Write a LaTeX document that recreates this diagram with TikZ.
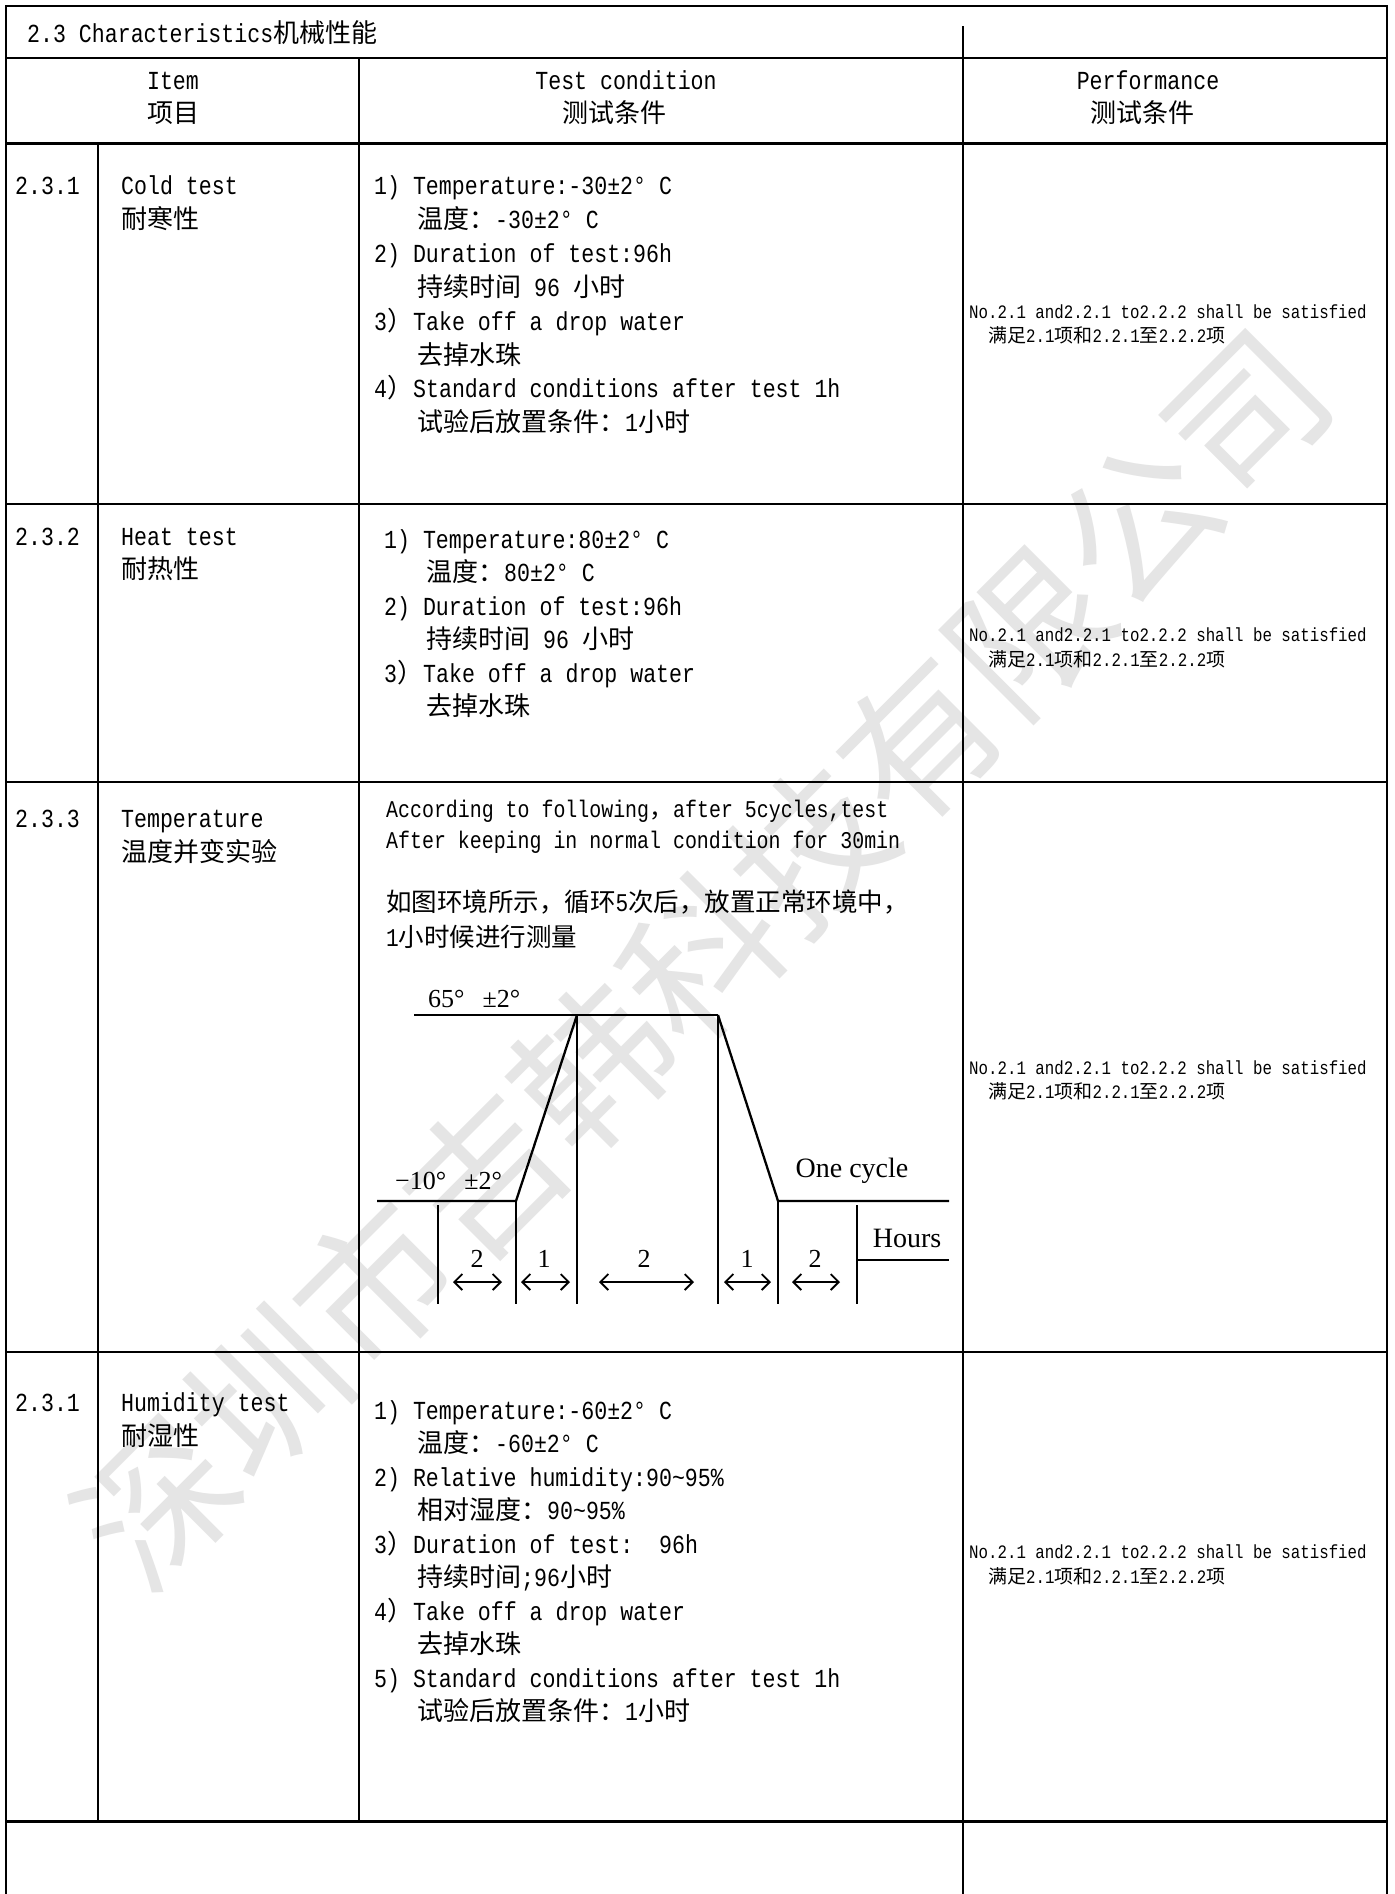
\documentclass[tikz,border=0pt]{standalone}
\usepackage{fontspec}
\setmainfont{Liberation Mono}[FakeStretch=0.83]
\newfontfamily\cjk{Noto Sans CJK SC}
\newfontfamily\serifA{Liberation Serif}
\usetikzlibrary{arrows.meta}
\newcommand\C[1]{{\cjk #1}}
\tikzset{
  grid/.style={line width=2pt, line cap=rect},
  heavy/.style={line width=3pt},
  chart/.style={line width=2.3pt},
  dim/.style={line width=1.8pt, {Straight Barb[length=8pt,width=16pt]}-{Straight Barb[length=8pt,width=16pt]}},
  txt/.style={inner sep=0pt, anchor=base west, font=\fontsize{26}{30}\selectfont},
  hd/.style={inner sep=0pt, anchor=base, font=\fontsize{26}{30}\selectfont},
  tthree/.style={inner sep=0pt, anchor=base west, font=\fontsize{24}{28}\selectfont},
  tthreec/.style={inner sep=0pt, anchor=base west, font=\fontsize{25.5}{28}\selectfont},
  pf/.style={inner sep=0pt, anchor=base west, font=\fontsize{19}{22}\selectfont},
  ser/.style={inner sep=0pt, font=\serifA\fontsize{26}{30}\selectfont},
  serbig/.style={inner sep=0pt, font=\serifA\fontsize{28}{32}\selectfont},
  wm/.style={inner sep=0pt, text=black!10, rotate=45, font=\cjk\fontsize{154}{160}\selectfont}
}
\begin{document}
\begin{tikzpicture}[x=1pt,y=-1pt]
\useasboundingbox (0,0) rectangle (1394,1894);
\fill[white] (0,0) rectangle (1394,1894);
% watermark
\node[wm] (wm) at (702,958) {深圳市吉韩科技有限公司};
% table frame
\draw[grid] (6,1894) -- (6,6) -- (1387,6) -- (1387,1894);
\draw[grid] (6,58) -- (1387,58);
\draw[grid] (963,27) -- (963,58);
\draw[heavy] (6,144) -- (1387,144);
\draw[grid] (359,58) -- (359,1821);
\draw[grid] (963,58) -- (963,1894);
\draw[grid] (98,144) -- (98,1821);
\draw[grid] (6,504) -- (1387,504);
\draw[grid] (6,782) -- (1387,782);
\draw[grid] (6,1352) -- (1387,1352);
\draw[heavy] (6,1821) -- (1387,1821);
% title and header
\node[txt] (title) at (27,43) {2.3 Characteristics\C{机械性能}};
\node[hd] (hItem) at (173,90) {Item};
\node[hd] (hItemC) at (173,123) {\C{项目}};
\node[hd] (hTest) at (626,90) {Test condition};
\node[hd] (hTestC) at (614,123) {\C{测试条件}};
\node[hd] (hPerf) at (1148,90) {Performance};
\node[hd] (hPerfC) at (1142,123) {\C{测试条件}};
% row 1
\node[txt] (n1) at (15,195) {2.3.1};
\node[txt] (i1a) at (121,195) {Cold test};
\node[txt] (i1b) at (121,229) {\C{耐寒性}};
\node[txt] (c1a) at (374,195) {1) Temperature:-30±2° C};
\node[txt] (c1b) at (417,229) {\C{温度：}-30±2° C};
\node[txt] (c1c) at (374,262) {2) Duration of test:96h};
\node[txt] (c1d) at (417,296) {\C{持续时间} 96 \C{小时}};
\node[txt] (c1e) at (374,330) {3\C{）}Take off a drop water};
\node[txt] (c1f) at (417,364) {\C{去掉水珠}};
\node[txt] (c1g) at (374,397) {4\C{）}Standard conditions after test 1h};
\node[txt] (c1h) at (417,431) {\C{试验后放置条件：}1\C{小时}};
\node[pf] (p1a) at (969,318) {No.2.1 and2.2.1 to2.2.2 shall be satisfied};
\node[pf] (p1b) at (988,342) {\C{满足}2.1\C{项和}2.2.1\C{至}2.2.2\C{项}};
% row 2
\node[txt] (n2) at (15,545) {2.3.2};
\node[txt] (i2a) at (121,545) {Heat test};
\node[txt] (i2b) at (121,578) {\C{耐热性}};
\node[txt] (c2a) at (384,548) {1) Temperature:80±2° C};
\node[txt] (c2b) at (426,581) {\C{温度：}80±2° C};
\node[txt] (c2c) at (384,615) {2) Duration of test:96h};
\node[txt] (c2d) at (426,648) {\C{持续时间} 96 \C{小时}};
\node[txt] (c2e) at (384,682) {3\C{）}Take off a drop water};
\node[txt] (c2f) at (426,715) {\C{去掉水珠}};
\node[pf] (p2a) at (969,641) {No.2.1 and2.2.1 to2.2.2 shall be satisfied};
\node[pf] (p2b) at (988,666) {\C{满足}2.1\C{项和}2.2.1\C{至}2.2.2\C{项}};
% row 3
\node[txt] (n3) at (15,827) {2.3.3};
\node[txt] (i3a) at (121,827) {Temperature};
\node[txt] (i3b) at (121,861) {\C{温度并变实验}};
\node[tthree] (c3a) at (386,817) {According to following\C{，}after 5cycles,test};
\node[tthree] (c3b) at (386,848) {After keeping in normal condition for 30min};
\node[tthreec] (c3c) at (386,911) {\C{如图环境所示，循环}5\C{次后，放置正常环境中，}};
\node[tthreec] (c3d) at (386,946) {1\C{小时候进行测量}};
\node[pf] (p3a) at (969,1074) {No.2.1 and2.2.1 to2.2.2 shall be satisfied};
\node[pf] (p3b) at (988,1098) {\C{满足}2.1\C{项和}2.2.1\C{至}2.2.2\C{项}};
% chart
\draw[chart] (414,1015) -- (718,1015);
\draw[chart] (377,1201) -- (516,1201) -- (577,1015);
\draw[chart] (718,1015) -- (778,1201) -- (949,1201);
\draw[chart] (438,1205) -- (438,1304);
\draw[chart] (516,1201) -- (516,1304);
\draw[chart] (577,1015) -- (577,1304);
\draw[chart] (718,1015) -- (718,1304);
\draw[chart] (778,1201) -- (778,1304);
\draw[chart] (857,1205) -- (857,1304);
\draw[chart] (857,1260) -- (949,1260);
\coordinate (a1l) at (453,1282); \coordinate (a1r) at (502,1282);
\coordinate (a2l) at (521,1282); \coordinate (a2r) at (570,1282);
\coordinate (a3l) at (599,1282); \coordinate (a3r) at (694,1282);
\coordinate (a4l) at (724,1282); \coordinate (a4r) at (771,1282);
\coordinate (a5l) at (792,1282); \coordinate (a5r) at (840,1282);
\draw[dim] (a1l) -- (a1r);
\draw[dim] (a2l) -- (a2r);
\draw[dim] (a3l) -- (a3r);
\draw[dim] (a4l) -- (a4r);
\draw[dim] (a5l) -- (a5r);
\node[ser] (d1) at (477,1259) {2};
\node[ser] (d2) at (544,1259) {1};
\node[ser] (d3) at (644,1259) {2};
\node[ser] (d4) at (747,1259) {1};
\node[ser] (d5) at (815,1259) {2};
\node[ser, anchor=base west] (thi) at (428,1007) {65°\hspace{18pt}±2°};
\node[ser, anchor=base west] (tlo) at (395,1189) {−10°\hspace{18pt}±2°};
\node[serbig] (cyc) at (852,1171) {One cycle};
\node[serbig] (hrs) at (907,1238) {Hours};
% row 4
\node[txt] (n4) at (15,1411) {2.3.1};
\node[txt] (i4a) at (121,1411) {Humidity test};
\node[txt] (i4b) at (121,1445) {\C{耐湿性}};
\node[txt] (c4a) at (374,1419) {1) Temperature:-60±2° C};
\node[txt] (c4b) at (417,1452.5) {\C{温度：}-60±2° C};
\node[txt] (c4c) at (374,1486) {2) Relative humidity:90{\char"7E}95\%};
\node[txt] (c4d) at (417,1519.5) {\C{相对湿度：}90{\char"7E}95\%};
\node[txt] (c4e) at (374,1553) {3\C{）}Duration of test:\ \ 96h};
\node[txt] (c4f) at (417,1586.5) {\C{持续时间};96\C{小时}};
\node[txt] (c4g) at (374,1620) {4\C{）}Take off a drop water};
\node[txt] (c4h) at (417,1653.5) {\C{去掉水珠}};
\node[txt] (c4i) at (374,1687) {5) Standard conditions after test 1h};
\node[txt] (c4j) at (417,1720.5) {\C{试验后放置条件：}1\C{小时}};
\node[pf] (p4a) at (969,1558) {No.2.1 and2.2.1 to2.2.2 shall be satisfied};
\node[pf] (p4b) at (988,1583) {\C{满足}2.1\C{项和}2.2.1\C{至}2.2.2\C{项}};
\end{tikzpicture}
\end{document}
